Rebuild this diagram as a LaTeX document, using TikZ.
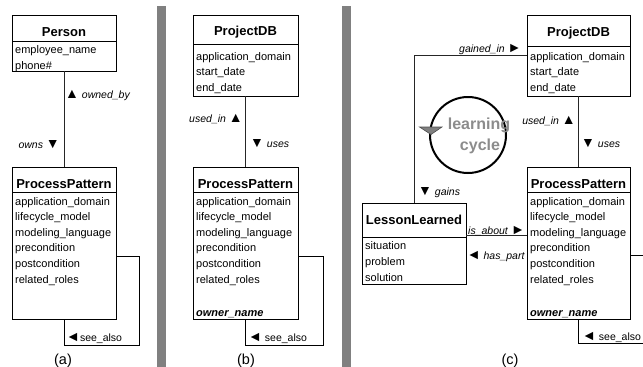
\documentclass[tikz,border=0pt]{standalone}
\usepackage{fontspec}
\setmainfont{Liberation Sans}
\definecolor{barcol}{HTML}{808080}
\definecolor{cyctxt}{HTML}{8C8C8C}
\newcommand\ppattrlines[3]{%
  \foreach \txt [count=\i from 0] in {application\_domain,lifecycle\_model,modeling\_language,precondition,postcondition,related\_roles}
    \node[att] (#1\i) at (#2,{#3+15.6*\i}) {\txt};%
}
\newcommand\trimark[1]{{\fontsize{14}{14}\selectfont #1}}
\begin{document}
\begin{tikzpicture}[x=1pt,y=-1pt,
  frame/.style={draw=black, line width=0.8pt, inner sep=0pt, outer sep=0pt, anchor=north west},
  ttl/.style={font=\fontsize{13}{15}\selectfont\bfseries, anchor=base, inner sep=0pt},
  att/.style={font=\fontsize{11}{13}\selectfont, anchor=base west, inner sep=0pt},
  own/.style={font=\fontsize{11}{13}\selectfont\bfseries\itshape, anchor=base west, inner sep=0pt},
  rel/.style={font=\fontsize{10.5}{12}\selectfont, inner sep=0pt},
  conn/.style={draw=black!85, line width=0.8pt},
  selfln/.style={draw=black, line width=0.8pt},
  sublbl/.style={font=\fontsize{14.5}{16}\selectfont, anchor=base, inner sep=0pt}
]
\useasboundingbox (0,0) rectangle (643,367);
% separator bars
\fill[barcol] (157,6) rectangle (166,367);
\fill[barcol] (342,6) rectangle (351,367);

% ---------- (a) ----------
\node[frame, minimum width=104pt, minimum height=26pt] (personT) at (12,15) {};
\node[frame, minimum width=104pt, minimum height=30pt] (personA) at (personT.south west) {};
\node[ttl] (personN) at (64,36) {Person};
\node[att] (personA1) at (15,53) {employee\_name};
\node[att] (personA2) at (15,69) {phone\#};

\node[frame, minimum width=104pt, minimum height=25pt] (ppaT) at (12,167) {};
\node[frame, minimum width=104pt, minimum height=127pt] (ppaA) at (ppaT.south west) {};
\node[ttl] (ppaN) at (64,188) {ProcessPattern};
\ppattrlines{ppa}{15}{205}

\draw[conn] (personA.south) -- (ppaT.north);
\node[rel, anchor=base west] (lblOwnedBy) at (65,98.5) {\trimark{▲} \textit{owned\_by}};
\node[rel, anchor=base east] (lblOwns) at (60,148) {\textit{owns} \trimark{▼}};

\coordinate (la1) at (139,256);
\coordinate (la2) at (139,345);
\draw[selfln] (ppaA.east |- la1) -- (la1) -- (la2) -| (ppaA.south);
\node[rel, anchor=base west] (lblSeeA) at (66,341.5) {\trimark{◄}see\_also};
\node[sublbl] (subA) at (63,364) {(a)};

% ---------- (b) ----------
\node[frame, minimum width=105pt, minimum height=29pt] (pdbbT) at (193,15) {};
\node[frame, minimum width=105pt, minimum height=52pt] (pdbbA) at (pdbbT.south west) {};
\node[ttl] (pdbbN) at (245.5,35) {ProjectDB};
\node[att] (pdbb1) at (196,60) {application\_domain};
\node[att] (pdbb2) at (196,75.5) {start\_date};
\node[att] (pdbb3) at (196,91) {end\_date};

\node[frame, minimum width=105pt, minimum height=25pt] (ppbT) at (193,167) {};
\node[frame, minimum width=105pt, minimum height=127pt] (ppbA) at (ppbT.south west) {};
\node[ttl] (ppbN) at (245.5,188) {ProcessPattern};
\ppattrlines{ppb}{196}{205}
\node[own] (ppbO) at (196,316.5) {owner\_name};

\draw[conn] (pdbbA.south) -- (ppbT.north);
\node[rel, anchor=base east] (lblUsedInB) at (243,122.5) {\textit{used\_in} \trimark{▲}};
\node[rel, anchor=base west] (lblUsesB) at (250,147.5) {\trimark{▼} \textit{uses}};

\coordinate (lb1) at (323,256);
\coordinate (lb2) at (323,345);
\draw[selfln] (ppbA.east |- lb1) -- (lb1) -- (lb2) -| (ppbA.south);
\node[rel, anchor=base west] (lblSeeB) at (248,341.5) {\trimark{◄} see\_also};
\node[sublbl] (subB) at (246,364) {(b)};

% ---------- (c) ----------
\node[frame, minimum width=103pt, minimum height=31pt] (pdbcT) at (527,15) {};
\node[frame, minimum width=103pt, minimum height=50pt] (pdbcA) at (pdbcT.south west) {};
\node[ttl] (pdbcN) at (578.5,36) {ProjectDB};
\node[att] (pdbc1) at (530,60) {application\_domain};
\node[att] (pdbc2) at (530,75.5) {start\_date};
\node[att] (pdbc3) at (530,91) {end\_date};

\node[frame, minimum width=103pt, minimum height=25pt] (ppcT) at (527,167) {};
\node[frame, minimum width=103pt, minimum height=127pt] (ppcA) at (ppcT.south west) {};
\node[ttl] (ppcN) at (578.5,188) {ProcessPattern};
\ppattrlines{ppc}{530}{205}
\node[own] (ppcO) at (530,316.5) {owner\_name};

\node[frame, minimum width=104pt, minimum height=34pt] (llT) at (362,203) {};
\node[frame, minimum width=104pt, minimum height=47pt] (llA) at (llT.south west) {};
\node[ttl] (llN) at (414,224) {LessonLearned};
\node[att] (ll1) at (365,249) {situation};
\node[att] (ll2) at (365,265) {problem};
\node[att] (ll3) at (365,281) {solution};

\draw[conn] (pdbcA.south) -- (ppcT.north);
\node[rel, anchor=base east] (lblUsedInC) at (576,124.5) {\textit{used\_in} \trimark{▲}};
\node[rel, anchor=base west] (lblUsesC) at (581,147.5) {\trimark{▼} \textit{uses}};

\coordinate (gk) at (414,55);
\draw[conn] (pdbcA.west |- gk) -| (llT.north);
\node[rel, anchor=base west] (lblGainedIn) at (459,52) {\textit{gained\_in} \trimark{►}};
\node[rel, anchor=base west] (lblGains) at (418,195.5) {\trimark{▼} \textit{gains}};

\coordinate (ia) at (0,235.5);
\draw[conn] (llT.east |- ia) -- (ppcA.west |- ia);
\node[rel, anchor=base west] (lblIsAbout) at (468,234) {\textit{is\_about} \trimark{►}};
\node[rel, anchor=base east] (lblHasPart) at (525,259) {\trimark{◄} \textit{has\_part}};

\coordinate (lc1) at (643,255);
\coordinate (lc2) at (643,343);
\draw[selfln] (ppcA.east |- lc1) -- (lc1);
\draw[selfln] (lc2) -| (ppcA.south);
\node[rel, anchor=base west] (lblSeeC) at (582,340) {\trimark{◄} see\_also};
\node[sublbl] (subC) at (510,364) {(c)};

% learning cycle
\node[circle, draw=black, line width=2pt, minimum size=76pt, inner sep=0pt] (cyc) at (468,135) {};
\fill[barcol, draw=black!70, line width=0.6pt] (419.5,127) -- (442,127) -- (431,134.5) -- cycle;
\node[font=\fontsize{16}{18}\selectfont\bfseries, text=cyctxt, anchor=base, inner sep=0pt] (cycT1) at (479,129) {learning};
\node[font=\fontsize{16}{18}\selectfont\bfseries, text=cyctxt, anchor=base, inner sep=0pt] (cycT2) at (480,150.5) {cycle};
\end{tikzpicture}
\end{document}
